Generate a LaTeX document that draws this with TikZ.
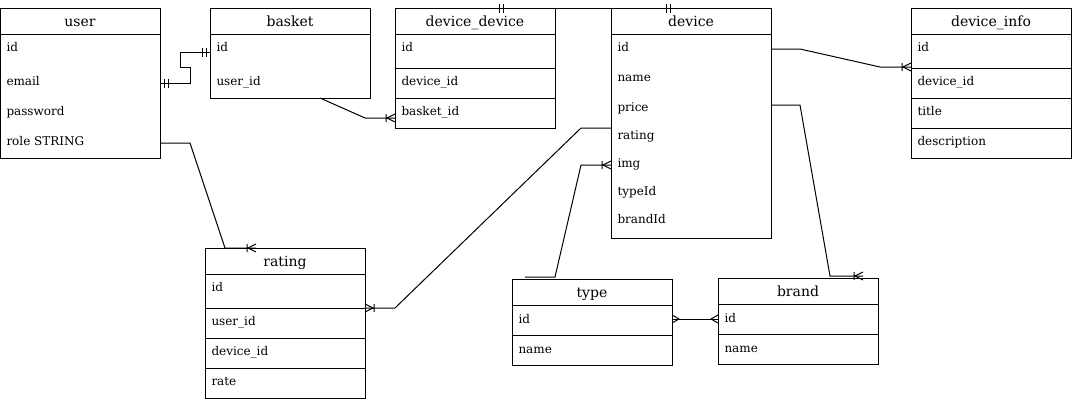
\documentclass[tikz,border=0pt]{standalone}
\usepackage{fontspec}
\setmainfont{DejaVu Serif}
\usetikzlibrary{calc}

% ER end marks
\pgfdeclarearrow{
  name = ERone,
  setup code = {
    \pgfarrowssettipend{0pt}
    \pgfarrowssetlineend{0pt}
    \pgfarrowssetbackend{-8pt}
    \pgfarrowsupperhullpoint{0pt}{4.5pt}
    \pgfarrowsupperhullpoint{-8pt}{4.5pt}
  },
  drawing code = {
    \pgfpathmoveto{\pgfqpoint{-4pt}{4.5pt}}
    \pgfpathlineto{\pgfqpoint{-4pt}{-4.5pt}}
    \pgfpathmoveto{\pgfqpoint{-8pt}{4.5pt}}
    \pgfpathlineto{\pgfqpoint{-8pt}{-4.5pt}}
    \pgfusepathqstroke
  }
}
\pgfdeclarearrow{
  name = ERmany,
  setup code = {
    \pgfarrowssettipend{0pt}
    \pgfarrowssetlineend{0pt}
    \pgfarrowssetbackend{-7pt}
    \pgfarrowsupperhullpoint{0pt}{4pt}
    \pgfarrowsupperhullpoint{-7pt}{0pt}
  },
  drawing code = {
    \pgfpathmoveto{\pgfqpoint{0pt}{4pt}}
    \pgfpathlineto{\pgfqpoint{-7pt}{0pt}}
    \pgfpathlineto{\pgfqpoint{0pt}{-4pt}}
    \pgfusepathqstroke
  }
}
\pgfdeclarearrow{
  name = ERmanyone,
  setup code = {
    \pgfarrowssettipend{0pt}
    \pgfarrowssetlineend{0pt}
    \pgfarrowssetbackend{-9pt}
    \pgfarrowsupperhullpoint{0pt}{4pt}
    \pgfarrowsupperhullpoint{-9pt}{4pt}
  },
  drawing code = {
    \pgfpathmoveto{\pgfqpoint{0pt}{4pt}}
    \pgfpathlineto{\pgfqpoint{-8pt}{0pt}}
    \pgfpathlineto{\pgfqpoint{0pt}{-4pt}}
    \pgfpathmoveto{\pgfqpoint{-9pt}{4pt}}
    \pgfpathlineto{\pgfqpoint{-9pt}{-4pt}}
    \pgfusepathqstroke
  }
}

\tikzset{
  tbl/.style={draw, fill=white, minimum width=160pt, anchor=north west, inner sep=0pt, outer sep=0pt},
  hdr/.style={draw, minimum width=160pt, minimum height=26pt, anchor=north west, inner sep=0pt, outer sep=0pt,
    text height=11pt, text depth=0pt, font=\fontsize{14}{16}\selectfont},
  fld/.style={anchor=west, inner sep=0pt, text height=9pt, text depth=0pt, font=\fontsize{12}{14}\selectfont},
}

\begin{document}
\begin{tikzpicture}[x=1pt, y=-1pt, line width=1pt]
	\useasboundingbox (0,0) rectangle (1072,402);

	% user
	\node[tbl, minimum height=150pt] (user) at (0,8) {};
	\node[hdr] (user-h) at (0,8) {user};
	\node[fld] (user-id) at (6,47) {id};
	\node[fld] (user-email) at (6,81) {email};
	\node[fld] (user-pass) at (6,111) {password};
	\node[fld] (user-role) at (6,141) {role STRING};

	% basket
	\node[tbl, minimum height=90pt] (basket) at (210,8) {};
	\node[hdr] (basket-h) at (210,8) {basket};
	\node[fld] (basket-id) at (216,47) {id};
	\node[fld] (basket-user) at (216,81) {user\_id};

	% device_device
	\node[tbl, minimum height=120pt] (dd) at (395,8) {};
	\node[hdr] (dd-h) at (395,8) {device\_device};
	\node[fld] (dd-id) at (401,47) {id};
	\node[fld] (dd-dev) at (401,81) {device\_id};
	\node[fld] (dd-basket) at (401,111) {basket\_id};
	\foreach \y in {68,98} \draw (395,\y) -- ++(160,0);

	% device
	\node[tbl, minimum height=230pt] (dev) at (611,8) {};
	\node[hdr] (dev-h) at (611,8) {device};
	\node[fld] (dev-id) at (617,47) {id};
	\node[fld] (dev-name) at (617,77) {name};
	\node[fld] (dev-price) at (617,107) {price};
	\node[fld] (dev-rating) at (617,135) {rating};
	\node[fld] (dev-img) at (617,163) {img};
	\node[fld] (dev-type) at (617,191) {typeId};
	\node[fld] (dev-brand) at (617,219) {brandId};

	% device_info
	\node[tbl, minimum height=150pt] (di) at (911,8) {};
	\node[hdr] (di-h) at (911,8) {device\_info};
	\node[fld] (di-id) at (917,47) {id};
	\node[fld] (di-dev) at (917,81) {device\_id};
	\node[fld] (di-title) at (917,111) {title};
	\node[fld] (di-descr) at (917,141) {description};
	\foreach \y in {68,98,128} \draw (911,\y) -- ++(160,0);

	% rating
	\node[tbl, minimum height=150pt] (rat) at (205,248) {};
	\node[hdr] (rat-h) at (205,248) {rating};
	\node[fld] (rat-id) at (211,287) {id};
	\node[fld] (rat-userid) at (211,321) {user\_id};
	\node[fld] (rat-devid) at (211,351) {device\_id};
	\node[fld] (rat-rate) at (211,381) {rate};
	\foreach \y in {308,338,368} \draw (205,\y) -- ++(160,0);

	% type
	\node[tbl, minimum height=86pt] (type) at (512,279) {};
	\node[hdr] (type-h) at (512,279) {type};
	\node[fld] (type-id) at (518,319) {id};
	\node[fld] (type-name) at (518,349) {name};
	\draw (512,335) -- ++(160,0);

	% brand
	\node[tbl, minimum height=86pt] (brand) at (718,278) {};
	\node[hdr] (brand-h) at (718,278) {brand};
	\node[fld] (brand-id) at (724,318) {id};
	\node[fld] (brand-name) at (724,348) {name};
	\draw (718,334) -- ++(160,0);

	% relations
	\draw[ERone-ERone] ($(user.east |- user-email)+(0,2)$) -- ++(30,0) -- ++(0,-16) -- ++(-10,0)
		|- ($(basket.west |- basket-id)+(0,5)$);
	\draw[-ERmanyone] ($(basket.south west)+(110,0)$) -- ++(45,20) -- ($(dd.west |- dd-basket)+(0,7)$);
	\draw[ERone-ERone] ($(dd.north west)+(100,0)$) -- ($(dev.north west)+(63,0)$);
	\draw[-ERmanyone] ($(dev.east |- dev-id)+(0,2)$) -- ++(29,0) -- ++(80,18) -- ($(di.west |- di-id)+(0,20)$);
	\draw[-ERmanyone] ($(dev.east |- dev-price)+(0,-2)$) -- ++(29,0) -- ++(30,171) -- ($(brand.north west)+(145,-2)$);
	\draw[-ERmanyone] ($(type.north west)+(13,-2)$) -- ++(30,0) -- ++(26,-112) -- ($(dev.west |- dev-img)+(0,2)$);
	\draw[-ERmanyone] ($(dev.west |- dev-rating)+(0,-7)$) -- ++(-30,0) -- ++(-186,180) -- ($(rat.east |- rat-userid)+(0,-13)$);
	\draw[-ERmanyone] ($(user.east |- user-role)+(0,2)$) -- ++(30,0) -- ++(35,105) -- ($(rat.north west)+(51,0)$);
	\draw[ERmany-ERmany] (type.east |- type-id) -- (brand.west |- type-id);
\end{tikzpicture}
\end{document}
